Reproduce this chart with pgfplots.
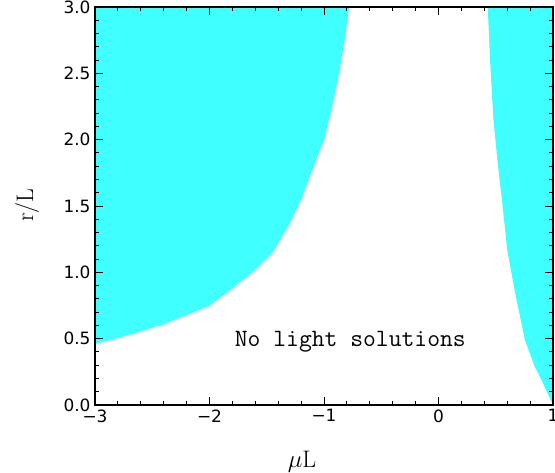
\documentclass[border=0pt]{standalone}
\usepackage{fontspec}
\usepackage{pgfplots}
\pgfplotsset{compat=1.18}
\newfontfamily\tickfont{DejaVu Sans}
\definecolor{region}{RGB}{64,255,255}

\begin{document}
\begin{tikzpicture}
  \begin{axis}[
    at={(0,0)}, anchor=south west,
    scale only axis,
    width=458bp, height=398bp,
    xmin=-3, xmax=1, ymin=0, ymax=3,
    xtick={-3,-2,-1,0,1},
    xticklabels={−3,−2,−1,0,1},
    ytick={0,0.5,1,1.5,2,2.5,3},
    yticklabels={0.0,0.5,1.0,1.5,2.0,2.5,3.0},
    minor x tick num=4,
    minor y tick num=4,
    tick label style={font=\tickfont\fontsize{17}{19}\selectfont, black},
    xticklabel style={yshift=-1bp},
    yticklabel style={xshift=-1bp},
    major tick length=8bp, minor tick length=4bp,
    every tick/.style={black, line width=1pt},
    axis line style={black, line width=1.3pt},
    xlabel={$\mu$L},
    ylabel={r/L},
    label style={font=\fontsize{24}{26}\selectfont},
    xlabel style={at={(axis description cs:0.452,-0.143)}, anchor=center},
    ylabel style={at={(axis description cs:-0.148,0.5025)}, anchor=center},
    axis on top,
    clip=true,
  ]
    % allowed region, mu < 0 side
    \addplot[fill=region, draw=none] coordinates {
      (-3,3) (-3,0.46) (-2.7,0.53) (-2.4,0.61) (-2.0,0.75) (-1.8,0.88)
      (-1.6,1.02) (-1.45,1.15) (-1.3,1.37) (-1.2,1.55) (-1.1,1.78)
      (-1.0,2.0) (-0.93,2.25) (-0.87,2.5) (-0.82,2.75) (-0.78,3.0)
    } -- cycle;
    % allowed region, mu > 0 side
    \addplot[fill=region, draw=none] coordinates {
      (0.43,3.0) (0.45,2.6) (0.48,2.15) (0.52,1.8) (0.555,1.54)
      (0.60,1.17) (0.67,0.84) (0.755,0.49) (0.84,0.29) (0.91,0.17)
      (1.0,0.0) (1.0,3.0)
    } -- cycle;
    \node[font=\ttfamily\fontsize{25}{27}\selectfont] at (axis cs:-0.77,0.475) {No light solutions};
  \end{axis}
  \pgfresetboundingbox
  \path[use as bounding box] (-95bp,-68bp) rectangle (460bp,405bp);
\end{tikzpicture}
\end{document}
